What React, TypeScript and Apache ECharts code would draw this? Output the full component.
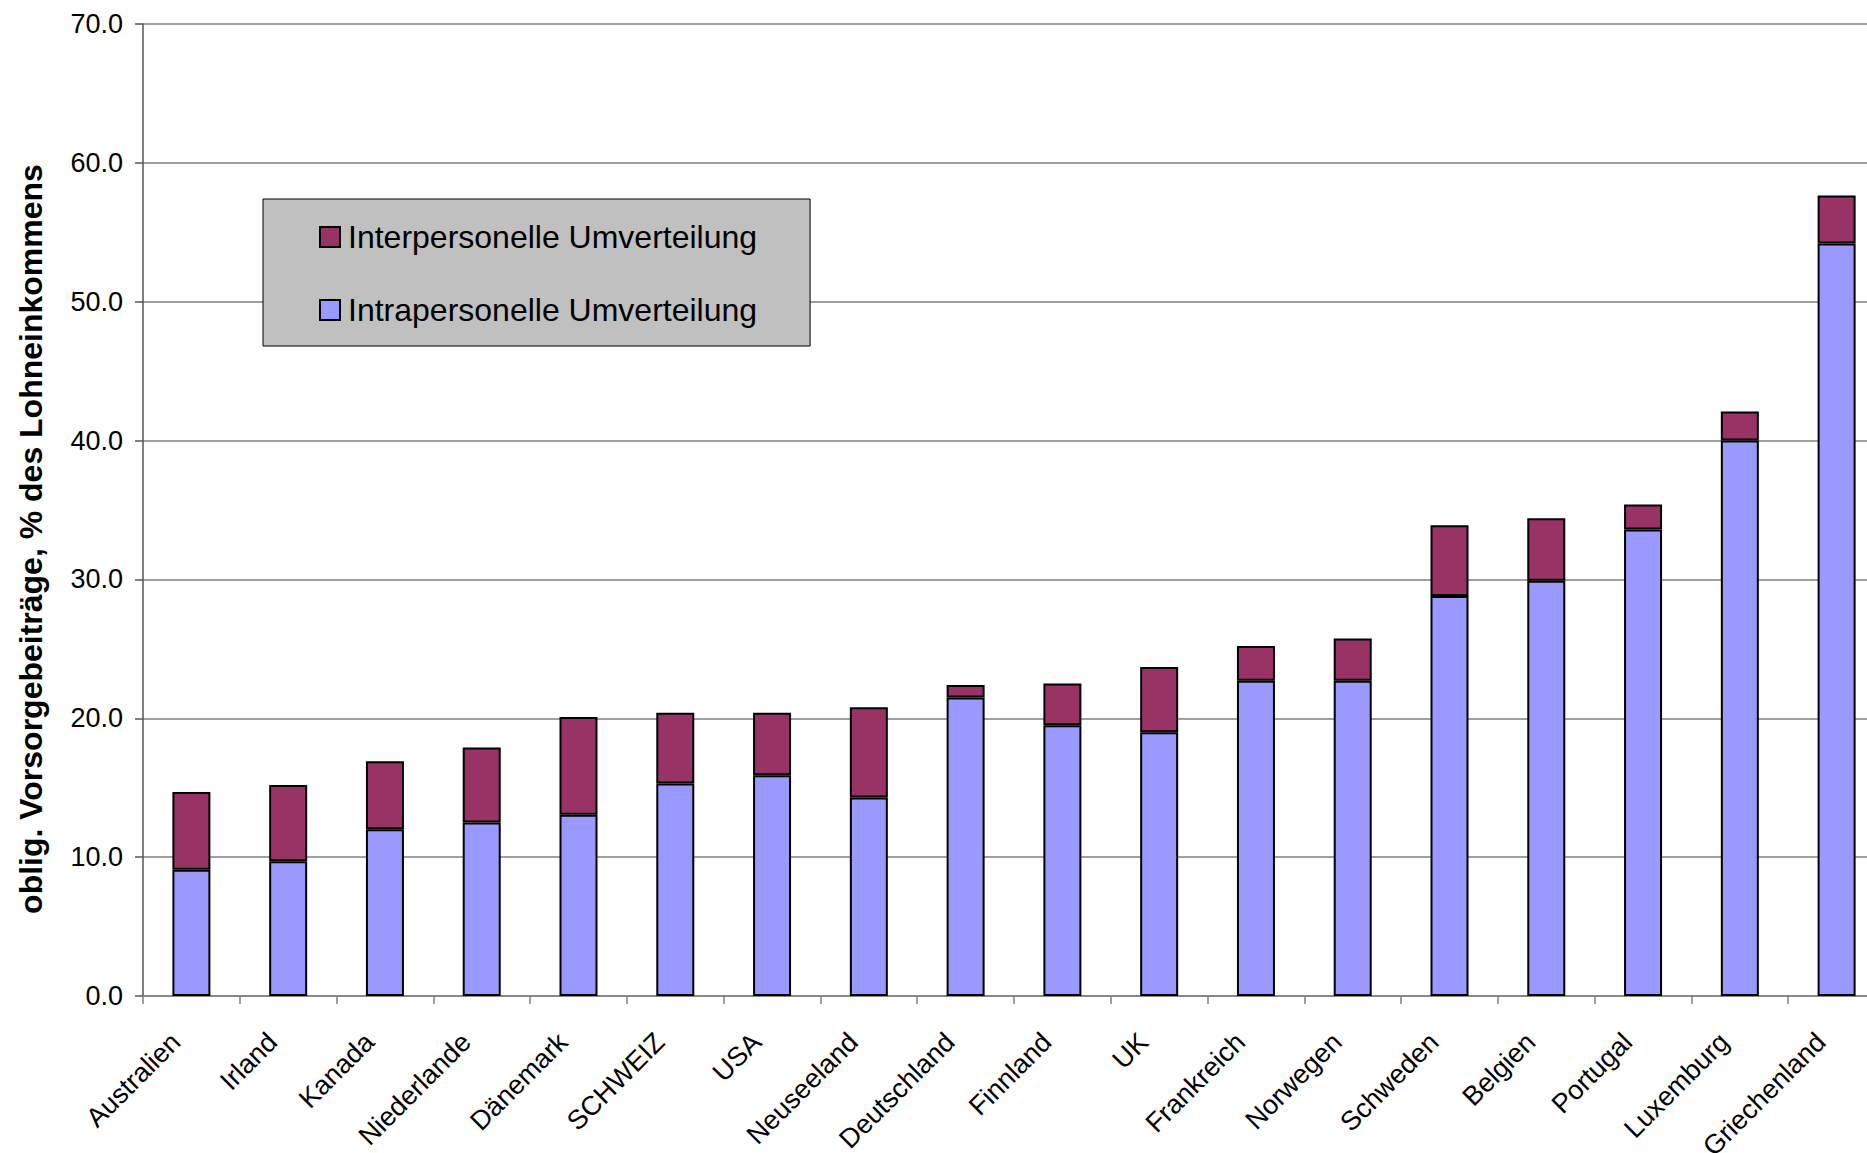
import React, { useEffect, useRef } from "react";
import * as echarts from "echarts";

const categories = [
  "Australien", "Irland", "Kanada", "Niederlande", "Dänemark", "SCHWEIZ", "USA",
  "Neuseeland", "Deutschland", "Finnland", "UK", "Frankreich", "Norwegen",
  "Schweden", "Belgien", "Portugal", "Luxemburg", "Griechenland",
];
const intraValues = [9.1, 9.7, 12.0, 12.5, 13.05, 15.3, 15.9, 14.3, 21.5, 19.5, 19.0, 22.7, 22.7, 28.8, 29.9, 33.6, 40.0, 54.2];
const interValues = [5.6, 5.5, 4.9, 5.4, 7.05, 5.1, 4.5, 6.5, 0.9, 3.0, 4.7, 2.5, 3.05, 5.1, 4.5, 1.8, 2.1, 3.45];
const interName = "Interpersonelle Umverteilung";
const intraName = "Intrapersonelle Umverteilung";
const yTitle = "oblig. Vorsorgebeiträge, % des Lohneinkommens";

const FONT = "Liberation Sans, Arial, sans-serif";

export default function App() {
  const ref = useRef<HTMLDivElement>(null);
  useEffect(() => {
    if (!ref.current) return;
    const chart = echarts.init(ref.current, null, { renderer: "svg" });
    chart.setOption({
      animation: false,
      backgroundColor: "#ffffff",
      textStyle: { fontFamily: FONT },
      grid: { left: 143, right: -18, top: 24, bottom: 157, containLabel: false, outerBoundsMode: "none" },
      legend: {
        data: [interName, intraName],
        orient: "vertical",
        left: 263,
        top: 199,
        padding: [22, 53, 20, 56],
        itemGap: 41,
        itemWidth: 20,
        itemHeight: 20,
        icon: "rect",
        backgroundColor: "#C0C0C0",
        borderColor: "#000000",
        borderWidth: 1,
        borderRadius: 0,
        itemStyle: { borderColor: "#000000", borderWidth: 2 },
        textStyle: { fontSize: 32, color: "#000", fontFamily: FONT, padding: [0, 0, 0, 3] },
      },
      graphic: [
        {
          type: "text",
          x: 31,
          y: 539,
          rotation: Math.PI / 2,
          style: {
            text: yTitle,
            fontSize: 32,
            fontWeight: "bold",
            fontFamily: FONT,
            fill: "#000",
            align: "center",
            verticalAlign: "middle",
          },
        },
      ],
      xAxis: {
        type: "category",
        data: categories,
        boundaryGap: true,
        axisLine: { lineStyle: { color: "#808080", width: 1.5 } },
        axisTick: { show: true, alignWithLabel: false, length: 8, lineStyle: { color: "#808080", width: 1.5 } },
        axisLabel: {
          rotate: 45,
          interval: 0,
          fontSize: 27,
          color: "#000",
          fontFamily: FONT,
          margin: 26,
          padding: [0, 22, 0, 0],
        },
      },
      yAxis: {
        type: "value",
        min: 0,
        max: 70,
        interval: 10,
        axisLine: { show: true, lineStyle: { color: "#555", width: 1.5 } },
        axisTick: { show: true, length: 8, lineStyle: { color: "#555", width: 1.5 } },
        axisLabel: {
          fontSize: 27,
          color: "#000",
          fontFamily: FONT,
          margin: 20,
          formatter: (v: number) => v.toFixed(1),
        },
        splitLine: { show: true, lineStyle: { color: "#808080", width: 1.5 } },
      },
      series: [
        {
          name: intraName,
          type: "bar",
          stack: "total",
          barWidth: 38,
          data: intraValues,
          itemStyle: { color: "#9999FF", borderColor: "#000", borderWidth: 2 },
        },
        {
          name: interName,
          type: "bar",
          stack: "total",
          barWidth: 38,
          data: interValues,
          itemStyle: { color: "#993366", borderColor: "#000", borderWidth: 2 },
        },
      ],
    });
    return () => chart.dispose();
  }, []);
  return (
    <div
      ref={ref}
      style={{ position: "fixed", left: 0, top: 0, width: 1867, height: 1153 }}
    />
  );
}
